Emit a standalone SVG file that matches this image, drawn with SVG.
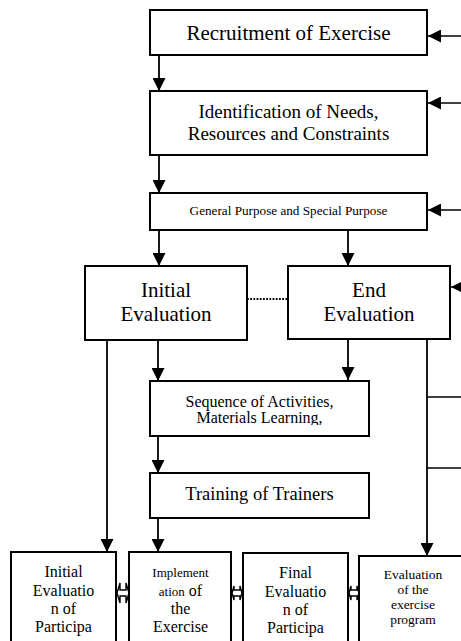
<svg xmlns="http://www.w3.org/2000/svg" width="461" height="641" viewBox="0 0 461 641" font-family="Liberation Serif, serif">
<style>
.box{fill:#fff;stroke:#000;stroke-width:2}
.ln{fill:none;stroke:#000;stroke-width:1.8}
.thin{fill:none;stroke:#000;stroke-width:1.4}
.dot{fill:none;stroke:#000;stroke-width:1.8;stroke-dasharray:1.8 1.4}
.t{font-family:"Liberation Serif",serif;fill:#000;text-anchor:middle}
.dbl{fill:#fff;stroke:#000;stroke-width:1.4}
</style>
<defs>
<marker id="ah" viewBox="0 0 13 13" refX="13" refY="6.5" markerWidth="13" markerHeight="13" markerUnits="userSpaceOnUse" orient="auto">
<path d="M0,0 L13,6.5 L0,13 Z" fill="#000"/>
</marker>
<clipPath id="seqclip"><rect x="150" y="381" width="219" height="44"/></clipPath>
</defs>
<g id="connectors">
<line class="ln" x1="159" y1="55" x2="159" y2="91" marker-end="url(#ah)"/>
<line class="ln" x1="159" y1="155" x2="159" y2="193" marker-end="url(#ah)"/>
<line class="ln" x1="159" y1="230" x2="159" y2="266" marker-end="url(#ah)"/>
<line class="ln" x1="348" y1="230" x2="348" y2="266" marker-end="url(#ah)"/>
<line class="thin" x1="461" y1="36" x2="428" y2="36" marker-end="url(#ah)"/>
<line class="thin" x1="461" y1="103" x2="428" y2="103" marker-end="url(#ah)"/>
<line class="thin" x1="461" y1="210" x2="428" y2="210" marker-end="url(#ah)"/>
<line class="thin" x1="475" y1="287" x2="451" y2="287" marker-end="url(#ah)"/>
<line class="dot" x1="247" y1="299" x2="288" y2="299"/>
<line class="ln" x1="158" y1="340" x2="158" y2="381" marker-end="url(#ah)"/>
<line class="ln" x1="348" y1="339" x2="348" y2="380" marker-end="url(#ah)"/>
<line class="ln" x1="158" y1="436" x2="158" y2="473" marker-end="url(#ah)"/>
<line class="ln" x1="158" y1="518" x2="158" y2="552" marker-end="url(#ah)"/>
<line class="ln" x1="107" y1="340" x2="107" y2="552" marker-end="url(#ah)"/>
<line class="ln" x1="427" y1="339" x2="427" y2="556" marker-end="url(#ah)"/>
<line class="thin" x1="427" y1="397" x2="461" y2="397"/>
<line class="thin" x1="427" y1="468" x2="461" y2="468"/>
<path class="dbl" d="M117,593 L120,583 L120,590 L126,590 L126,583 L129,593 L126,603 L126,596 L120,596 L120,603 Z"/>
<path class="dbl" d="M232,593 L234,586 L234,590 L240,590 L240,586 L242,593 L240,600 L240,596 L234,596 L234,600 Z"/>
<path class="dbl" d="M349,593 L351,586 L351,590 L357,590 L357,586 L359,593 L357,600 L357,596 L351,596 L351,600 Z"/>
</g>
<g id="recruitment">
<rect class="box" x="150" y="10" width="277" height="45"/>
<text class="t" x="288.5" y="40" font-size="21">Recruitment of Exercise</text>
</g>
<g id="identification">
<rect class="box" x="150" y="91" width="277" height="64"/>
<text class="t" x="288.5" y="118" font-size="19">Identification of Needs,</text>
<text class="t" x="288.5" y="140" font-size="19">Resources and Constraints</text>
</g>
<g id="purpose">
<rect class="box" x="150" y="193" width="277" height="37"/>
<text class="t" x="288.5" y="215" font-size="13.2">General Purpose and Special Purpose</text>
</g>
<g id="initial-evaluation">
<rect class="box" x="85" y="266" width="162" height="74"/>
<text class="t" x="166" y="297" font-size="21">Initial</text>
<text class="t" x="166" y="321" font-size="21">Evaluation</text>
</g>
<g id="end-evaluation">
<rect class="box" x="288" y="266" width="162" height="73"/>
<text class="t" x="369" y="297" font-size="21">End</text>
<text class="t" x="369" y="321" font-size="21">Evaluation</text>
</g>
<g id="sequence">
<rect class="box" x="150" y="381" width="219" height="55"/>
<g clip-path="url(#seqclip)">
<text class="t" x="259.5" y="407" font-size="16">Sequence of Activities,</text>
<text class="t" x="259.5" y="423" font-size="16">Materials Learning,</text>
</g>
</g>
<g id="training">
<rect class="box" x="150" y="473" width="219" height="45"/>
<text class="t" x="259.5" y="500" font-size="18.5">Training of Trainers</text>
</g>
<g id="initial-participants">
<rect class="box" x="11" y="552" width="105" height="100"/>
<text class="t" x="63.5" y="577" font-size="16">Initial</text>
<text class="t" x="63.5" y="596" font-size="16">Evaluatio</text>
<text class="t" x="63.5" y="614" font-size="16">n of</text>
<text class="t" x="63.5" y="632" font-size="16">Participa</text>
</g>
<g id="implementation">
<rect class="box" x="129" y="552" width="102" height="100"/>
<text class="t" x="180.5" y="577" font-size="13">Implement</text>
<text class="t" x="180.5" y="596" font-size="13">ation<tspan font-size="16"> of</tspan></text>
<text class="t" x="180.5" y="614" font-size="16">the</text>
<text class="t" x="180.5" y="632" font-size="16">Exercise</text>
</g>
<g id="final-participants">
<rect class="box" x="243" y="553" width="105" height="100"/>
<text class="t" x="295.5" y="578" font-size="16">Final</text>
<text class="t" x="295.5" y="597" font-size="16">Evaluatio</text>
<text class="t" x="295.5" y="615" font-size="16">n of</text>
<text class="t" x="295.5" y="633" font-size="16">Participa</text>
</g>
<g id="program-evaluation">
<rect class="box" x="359" y="556" width="120" height="100"/>
<text class="t" x="413" y="579" font-size="13.5">Evaluation</text>
<text class="t" x="413" y="593.5" font-size="13.5">of the</text>
<text class="t" x="413" y="608.5" font-size="13.5">exercise</text>
<text class="t" x="413" y="623.5" font-size="13.5">program</text>
</g>
</svg>
